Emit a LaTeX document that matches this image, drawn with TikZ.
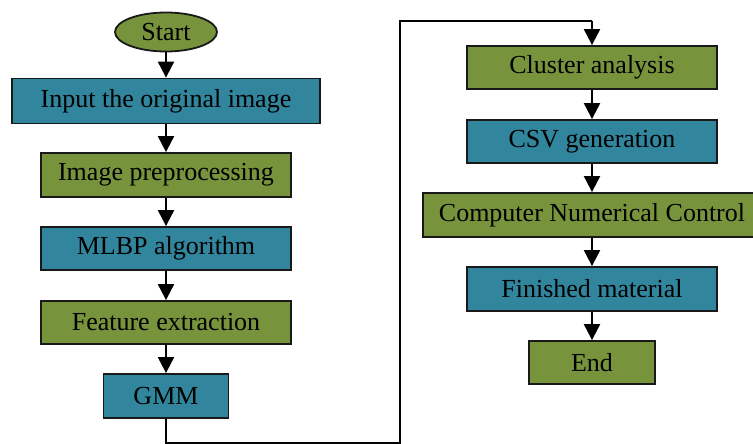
\documentclass[tikz,border=0pt]{standalone}
\usepackage{fontspec}
\setmainfont{Liberation Serif}
\usetikzlibrary{shapes.geometric,arrows.meta}
\definecolor{stepgreen}{HTML}{77933C}
\definecolor{stepblue}{HTML}{31859C}
\begin{document}
\begin{tikzpicture}[x=1pt,y=-1pt,
  box/.style={draw=black!90,line width=1.8pt,minimum height=43pt,inner sep=0pt,
    font=\fontsize{26}{30}\selectfont},
  gbox/.style={box,fill=stepgreen},
  bbox/.style={box,fill=stepblue},
  flow/.style={draw=black,line width=2pt,-{Triangle[width=16pt,length=16pt]}},
  link/.style={draw=black,line width=2pt}]
\useasboundingbox (0,0) rectangle (753,444);
% left column
\node[ellipse,draw=black!90,line width=1.8pt,fill=stepgreen,minimum width=102pt,
  minimum height=39pt,inner sep=0pt,font=\fontsize{26}{30}\selectfont] (start) at (166,32) {Start};
\node[bbox,minimum width=308pt,minimum height=45pt] (input) at (166,101) {Input the original image};
\node[gbox,minimum width=250pt,minimum height=44pt] (prep) at (166,175) {Image preprocessing};
\node[bbox,minimum width=250pt] (mlbp) at (166,248.5) {MLBP algorithm};
\node[gbox,minimum width=250pt] (feat) at (166,322.5) {Feature extraction};
\node[bbox,minimum width=125pt,minimum height=44pt] (gmm) at (166,396) {GMM};
% right column
\node[gbox,minimum width=250pt] (cluster) at (592,67.5) {Cluster analysis};
\node[bbox,minimum width=250pt] (csv) at (592,141.5) {CSV generation};
\node[gbox,minimum width=338pt,minimum height=44pt] (cnc) at (592,215) {Computer Numerical Control};
\node[bbox,minimum width=250pt,minimum height=44pt] (fin) at (592,289) {Finished material};
\node[gbox,minimum width=126pt] (end) at (592,362.5) {End};
% connectors
\draw[flow] (start) -- (input);
\draw[flow] (input) -- (prep);
\draw[flow] (prep) -- (mlbp);
\draw[flow] (mlbp) -- (feat);
\draw[flow] (feat) -- (gmm);
\coordinate (c1) at (166,443);
\coordinate (c2) at (400,443);
\coordinate (c3) at (400,21);
\coordinate (c4) at (592,21);
\draw[link,line join=miter] (gmm.south) -- (c1) -- (c2) -- (c3) -- (c4);
\draw[flow] (c4) -- (cluster.north);
\draw[flow] (cluster) -- (csv);
\draw[flow] (csv) -- (cnc);
\draw[flow] (cnc) -- (fin);
\draw[flow] (fin) -- (end);
\end{tikzpicture}
\end{document}
